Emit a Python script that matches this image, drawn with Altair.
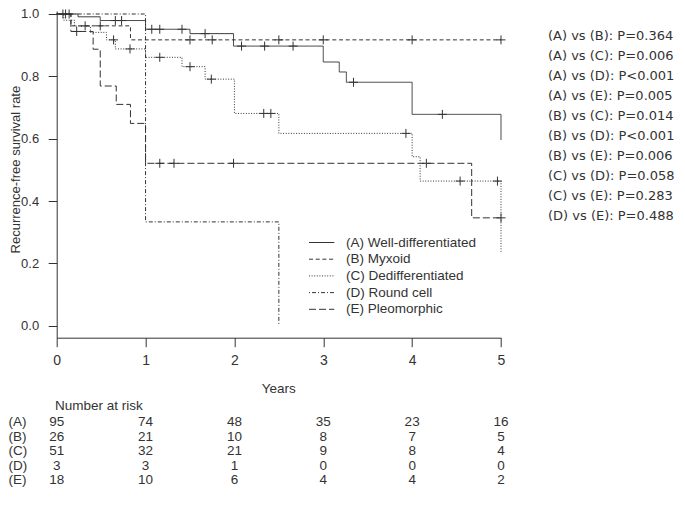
import altair as alt
import pandas as pd

# ---- data ----
groups = ["A", "B", "C", "D", "E"]
legend_labels = ["(A) Well-differentiated", "(B) Myxoid", "(C) Dedifferentiated",
                 "(D) Round cell", "(E) Pleomorphic"]

A_t = [0, 0.24, 0.49, 1.0, 1.5, 1.99, 3.0, 3.18, 3.26, 4.0, 5.0]
A_s = [1.0, 0.991, 0.979, 0.951, 0.937, 0.897, 0.846, 0.814, 0.781, 0.678, 0.596]
B_t = [0, 0.16, 0.83, 5.0]
B_s = [1.0, 0.962, 0.917, 0.917]
C_t = [0, 0.08, 0.2, 0.38, 0.56, 0.66, 1.0, 1.41, 1.67, 2.0, 2.5, 4.0, 4.09, 5.0]
C_s = [1.0, 0.98, 0.961, 0.941, 0.917, 0.888, 0.861, 0.831, 0.791, 0.681, 0.617, 0.542, 0.464, 0.237]
D_t = [0, 1.0, 2.5]
D_s = [1.0, 0.333, 0.0]
E_t = [0, 0.16, 0.41, 0.49, 0.67, 0.83, 1.0, 4.67, 5.0]
E_s = [1.0, 0.944, 0.887, 0.769, 0.710, 0.649, 0.521, 0.346, 0.346]

A_cens = [0.07, 0.10, 0.14, 0.66, 0.73, 1.07, 1.16, 1.41, 1.67, 2.08, 2.34, 2.66, 3.34, 4.34]
B_cens = [0.32, 0.49, 1.5, 1.75, 2.5, 3.0, 4.0, 5.0]
C_cens = [0.64, 0.825, 1.16, 1.5, 1.74, 2.33, 2.41, 3.93, 4.54, 4.96]
D_cens = []
E_cens = [0.225, 1.16, 1.32, 1.99, 4.16, 5.0]

risk_years = [0, 1, 2, 3, 4, 5]
risk_A = [95, 74, 48, 35, 23, 16]
risk_B = [26, 21, 10, 8, 7, 5]
risk_C = [51, 32, 21, 9, 8, 4]
risk_D = [3, 3, 1, 0, 0, 0]
risk_E = [18, 10, 6, 4, 4, 2]

pvalues = ["(A) vs (B): P=0.364", "(A) vs (C): P=0.006", "(A) vs (D): P<0.001",
           "(A) vs (E): P=0.005", "(B) vs (C): P=0.014", "(B) vs (D): P<0.001",
           "(B) vs (E): P=0.006", "(C) vs (D): P=0.058", "(C) vs (E): P=0.283",
           "(D) vs (E): P=0.488"]

# ---- styles / layout ----
INK = "#333333"
ARIAL = "Liberation Sans"
dashes = {"A": [1, 0], "B": [4, 2.7], "C": [1, 1.6], "D": [1, 2, 4, 2], "E": [7, 3]}
curves = {"A": (A_t, A_s, A_cens), "B": (B_t, B_s, B_cens), "C": (C_t, C_s, C_cens),
          "D": (D_t, D_s, D_cens), "E": (E_t, E_s, E_cens)}
risks = {"A": risk_A, "B": risk_B, "C": risk_C, "D": risk_D, "E": risk_E}

PL, PT = 56.7, 11.0          # page position of plot's top-left corner
def px(v):
    return v - PL
def py(v):
    return v - PT

W, H = 444.3, 337.7 - PT
xs = alt.Scale(domain=[0, 5], nice=False, zero=False)
ys = alt.Scale(domain=[-0.0385, 1.0 + (14.0 - PT) / 311.7], nice=False, zero=False)

def step_value(ts, ss, t):
    v = ss[0]
    for ti, si in zip(ts, ss):
        if ti <= t:
            v = si
    return v

layers = []
base_df = pd.DataFrame({"t": [0, 5], "s": [0, 1]})
axes = alt.Chart(base_df).mark_point(opacity=0).encode(
    x=alt.X("t:Q", scale=xs, title=None,
            axis=alt.Axis(values=risk_years, format="d", tickSize=9, labelPadding=7,
                          labelFlush=False, domainColor=INK, tickColor=INK, labelColor=INK,
                          labelFont=ARIAL, labelFontSize=14, grid=False)),
    y=alt.Y("s:Q", scale=ys, title=None,
            axis=alt.Axis(values=[0, 0.2, 0.4, 0.6, 0.8, 1.0], format=".1f", tickSize=8.5,
                          labelPadding=9.5, labelFlush=False, domainColor=INK, tickColor=INK,
                          labelColor=INK, labelFont=ARIAL, labelFontSize=13, grid=False)),
)
layers.append(axes)

for g in groups:
    ts, ss, cens = curves[g]
    df = pd.DataFrame({"t": ts, "s": ss})
    layers.append(alt.Chart(df).mark_line(interpolate="step-after", color=INK,
                                          strokeWidth=1, strokeDash=dashes[g]).encode(
        x=alt.X("t:Q", scale=xs), y=alt.Y("s:Q", scale=ys)))
    if cens:
        cdf = pd.DataFrame({"t": cens, "s": [step_value(ts, ss, c) for c in cens]})
        layers.append(alt.Chart(cdf).mark_point(shape="M-1,0L1,0M0,-1L0,1", filled=False,
                                                size=81, strokeWidth=1, color=INK,
                                                opacity=1).encode(
            x=alt.X("t:Q", scale=xs), y=alt.Y("s:Q", scale=ys)))

# legend
for i, g in enumerate(groups):
    yy = py(242.5 + 16.7 * i)
    layers.append(alt.Chart(pd.DataFrame({"k": [g]})).mark_rule(
        color=INK, strokeWidth=1, strokeDash=dashes[g]).encode(
        x=alt.value(px(309)), x2=alt.value(px(334.3)), y=alt.value(yy)))
    layers.append(alt.Chart(pd.DataFrame({"label": [legend_labels[i]]})).mark_text(
        align="left", baseline="middle", font=ARIAL, fontSize=13.5, color=INK).encode(
        x=alt.value(px(346)), y=alt.value(yy), text="label:N"))

# y title
layers.append(alt.Chart(pd.DataFrame({"label": ["Recurrence-free survival rate"]})).mark_text(
    angle=270, align="center", baseline="top", font=ARIAL, fontSize=13, color=INK).encode(
    x=alt.value(px(9.5)), y=alt.value(py(169.6)), text="label:N"))

# x title
layers.append(alt.Chart(pd.DataFrame({"t": [2.5], "label": ["Years"]})).mark_text(
    align="center", baseline="middle", font=ARIAL, fontSize=13.5, color=INK).encode(
    x=alt.X("t:Q", scale=xs), y=alt.value(py(389)), text="label:N"))

# number at risk
layers.append(alt.Chart(pd.DataFrame({"label": ["Number at risk"]})).mark_text(
    align="left", baseline="middle", font=ARIAL, fontSize=13.5, color=INK).encode(
    x=alt.value(px(55)), y=alt.value(py(406)), text="label:N"))
for i, g in enumerate(groups):
    yy = py(422.3 + 14.5 * i)
    layers.append(alt.Chart(pd.DataFrame({"label": ["(" + g + ")"]})).mark_text(
        align="left", baseline="middle", font=ARIAL, fontSize=13.5, color=INK).encode(
        x=alt.value(px(8.5)), y=alt.value(yy), text="label:N"))
    rdf = pd.DataFrame({"t": risk_years, "n": [str(v) for v in risks[g]]})
    layers.append(alt.Chart(rdf).mark_text(
        align="center", baseline="middle", font=ARIAL, fontSize=13.5, color=INK).encode(
        x=alt.X("t:Q", scale=xs), y=alt.value(yy), text="n:N"))

# p-values
for i, p in enumerate(pvalues):
    layers.append(alt.Chart(pd.DataFrame({"label": [p]})).mark_text(
        align="left", baseline="middle", font="DejaVu Sans", fontSize=13, color=INK).encode(
        x=alt.value(px(548)), y=alt.value(py(35.7 + 20 * i)), text="label:N"))

chart = alt.layer(*layers).properties(
    width=W, height=H,
    autosize=alt.AutoSizeParams(type="none"),
    padding={"left": PL - 8, "top": PT - 8, "right": 175, "bottom": 495 - (PT + H)},
).configure_view(stroke=None)

chart.save("out.html", embed_options={"renderer": "svg", "actions": False})
